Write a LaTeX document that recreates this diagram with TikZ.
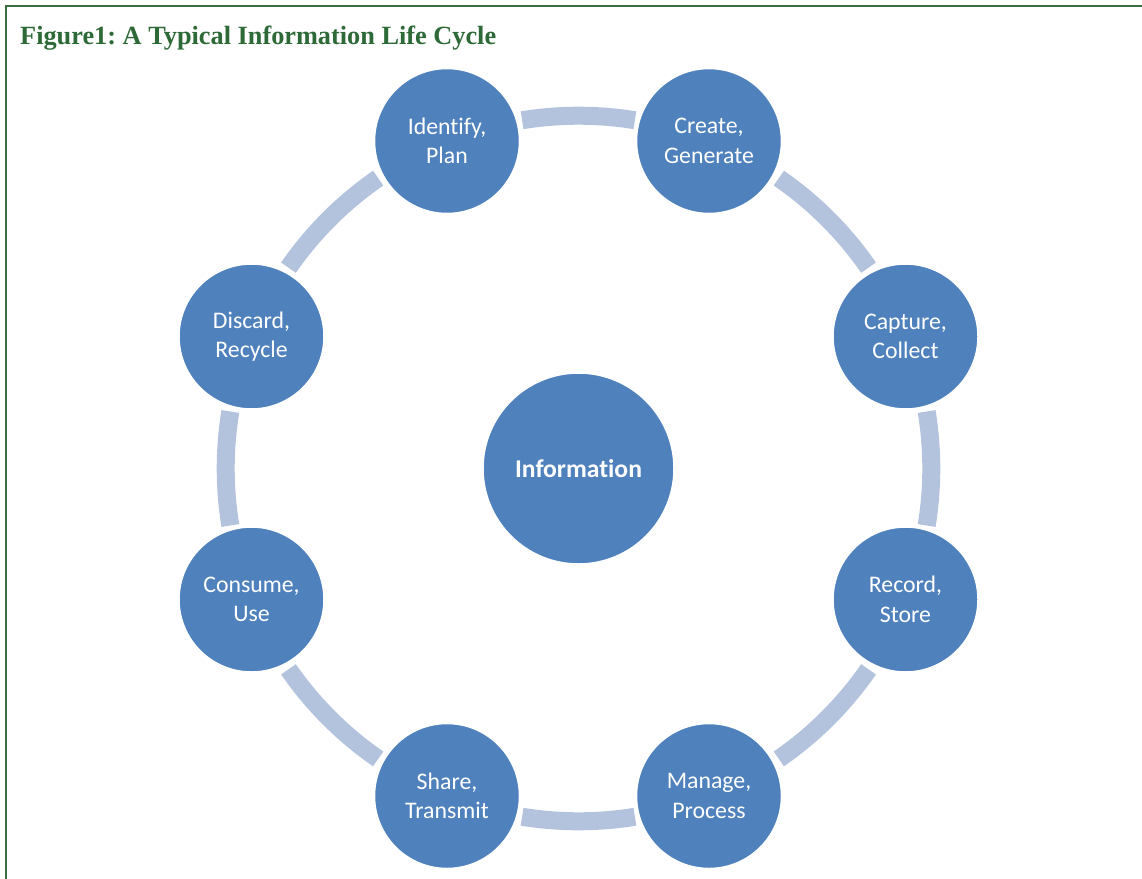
\documentclass[tikz,border=0pt]{standalone}
\usepackage{fontspec}
\newfontfamily\lblfont[Ligatures={NoCommon}]{Carlito}
\newfontfamily\titlefont{Liberation Serif}
\definecolor{frameGreen}{HTML}{3A6E42}
\definecolor{titleGreen}{HTML}{2E6A37}
\definecolor{nodeBlue}{HTML}{4F81BD}
\definecolor{arcBlue}{HTML}{B3C3DE}
\begin{document}
\begin{tikzpicture}[x=1pt,y=-1pt,
  stage/.style={circle,fill=nodeBlue,draw=white,line width=1.5pt,minimum size=145pt,inner sep=0pt,
     text=white,align=center,font=\lblfont\fontsize{23.8}{29.5}\selectfont},
  hub/.style={circle,fill=nodeBlue,draw=white,line width=1.5pt,minimum size=191pt,inner sep=0pt,
     text=white,font=\lblfont\bfseries\fontsize{25.6}{30}\selectfont},
  ringarc/.style={draw=arcBlue,line width=18pt,line cap=butt}]
\useasboundingbox (0,0) rectangle (1142,878);
% frame
\draw[frameGreen,line width=2pt] (6,879) -- (6,6) -- (1143,6);
\node[anchor=base west,inner sep=0pt,text=titleGreen,font=\titlefont\bfseries\frenchspacing\fontsize{26.3}{30}\selectfont]
  (title) at (20,44) {Figure1: A Typical Information Life Cycle};
% centre
\coordinate (c) at (578.5,468.5);
% ring arcs
\foreach \a/\b in {111.9/68.1, 68.1/22, 22/-22, -22/-68.1, -68.1/-111.9, -111.9/-158, -158/-202, 158/111.9}{
  \pgfmathsetmacro{\st}{\a-12.7}
  \pgfmathsetmacro{\en}{\b+12.7}
  \draw[ringarc] ([shift={(\st:352.8)}]c) arc[start angle=\st, end angle=\en, radius=352.8];
}
% nodes
\node[hub] (info) at (c) {Information};
\node[stage] (identify) at (447,141) {Identify,\\Plan};
\node[stage] (create) at (709,141) {Create,\\Generate};
\node[stage] (capture) at (905.5,336.5) {Capture,\\Collect};
\node[stage] (record) at (905.5,599.5) {Record,\\Store};
\node[stage] (manage) at (709,796) {Manage,\\Process};
\node[stage] (share) at (447,796) {Share,\\Transmit};
\node[stage] (consume) at (251.5,599.5) {Consume,\\Use};
\node[stage] (discard) at (251.5,336.5) {Discard,\\Recycle};
\end{tikzpicture}
\end{document}
